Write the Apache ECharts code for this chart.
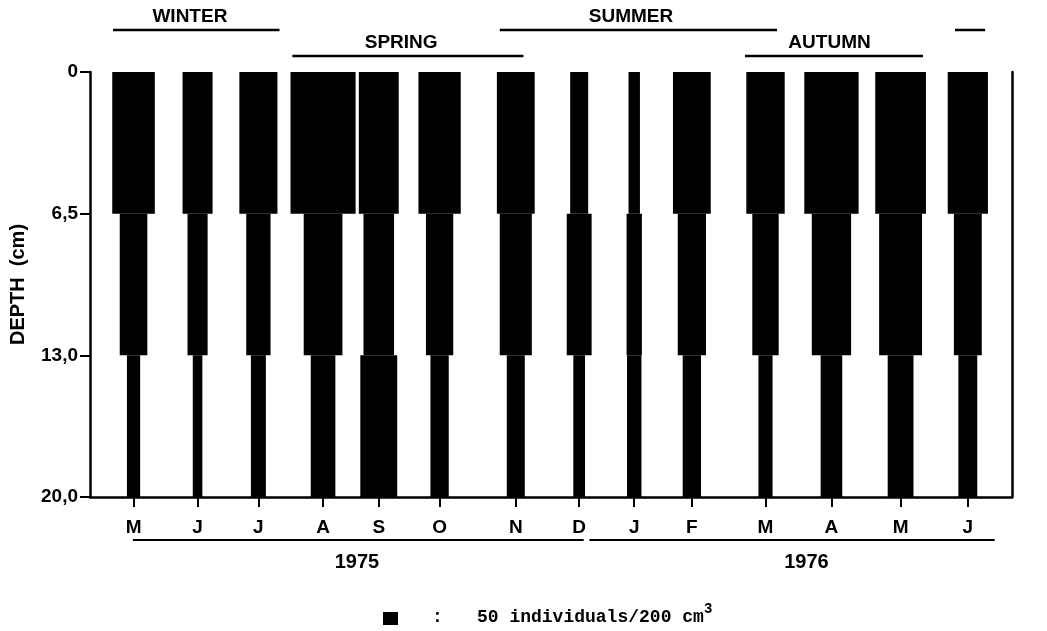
<!DOCTYPE html>
<html>
<head>
<meta charset="utf-8">
<title>Vertical distribution 1975-1976</title>
<script src="https://cdn.jsdelivr.net/npm/echarts@6/dist/echarts.min.js"></script>
<style>
  html, body { margin: 0; padding: 0; background: #fff; }
  #chart { width: 1047px; height: 631px; }
</style>
</head>
<body>
<div id="chart"></div>
<script>
/******************************DATA********************************/
// sampling dates in months from Jan 1975 (May 1975 = 4)
const sampleMonths = [3.98, 4.98, 5.93, 6.94, 7.81, 8.76, 9.95, 10.94, 11.80, 12.70, 13.85, 14.88, 15.96, 17.01]
const monthLabels = ['M', 'J', 'J', 'A', 'S', 'O', 'N', 'D', 'J', 'F', 'M', 'A', 'M', 'J']

// depth layer edges (cm) and individuals / 200 cm3 found in each layer
const depthLabels = ['0', '6,5', '13,0', '20,0']
const layer0to65 = [142, 100, 127, 217, 133, 141, 126, 60, 38, 126, 128, 181, 169, 134]
const layer65to13 = [92, 67, 81, 129, 102, 91, 107, 83, 51, 94, 88, 131, 143, 93]
const layer13to20 = [44, 32, 50, 82, 123, 61, 60, 39, 48, 61, 47, 72, 86, 63]

// seasons drawn above the plot (row 0 = upper row)
const seasonNames = ['WINTER', 'SPRING', 'SUMMER', 'AUTUMN', '']
const seasonFrom = [3.66, 6.46, 9.70, 13.53, 16.81]
const seasonTo = [6.26, 10.07, 14.03, 16.31, 17.28]
const seasonRow = [0, 1, 0, 1, 0]
const seasonLabelAt = [4.86, 8.16, 11.75, 14.85, 17.05]

// years drawn under the months
const yearNames = ['1975', '1976']
const yearFrom = [3.97, 11.10]
const yearTo = [11.01, 17.43]
const yearLabelAt = [7.47, 14.49]

// key: 50 individuals = 15 px of bar width
const KEY_COUNT = 50
const PX_PER_IND = 15 / KEY_COUNT

const SANS = '"Liberation Sans", Arial, sans-serif'
const MONO = '"Liberation Mono", "DejaVu Sans Mono", monospace'

/******************************CHART********************************/
const chart = echarts.init(document.getElementById('chart'), null, { renderer: 'canvas' })

const layers = [layer0to65, layer65to13, layer13to20]
const barData = []
layers.forEach((counts, l) => {
  counts.forEach((n, i) => barData.push([sampleMonths[i], l, n]))
})

const seasonData = seasonNames.map((_, i) => [seasonFrom[i], seasonTo[i], seasonRow[i], seasonLabelAt[i], i])
const yearData = yearNames.map((_, i) => [yearFrom[i], yearTo[i], yearLabelAt[i], i])

const monthFor = (v) => {
  let best = 0
  sampleMonths.forEach((m, i) => {
    if (Math.abs(m - v) < Math.abs(sampleMonths[best] - v)) best = i
  })
  return monthLabels[best]
}

const option = {
  backgroundColor: '#fff',
  animation: false,
  grid: { left: 87, right: 35, top: 72, bottom: 134 },
  xAxis: {
    type: 'value',
    position: 'bottom',
    min: 3.3,
    max: 17.7,
    splitLine: { show: false },
    axisLine: { onZero: false, lineStyle: { color: '#000', width: 2.5 } },
    axisTick: { customValues: sampleMonths, length: 10, lineStyle: { color: '#000', width: 2 } },
    axisLabel: {
      customValues: sampleMonths,
      formatter: monthFor,
      margin: 21,
      color: '#000',
      fontFamily: SANS,
      fontWeight: 'bold',
      fontSize: 19
    }
  },
  yAxis: [
    {
      type: 'value',
      inverse: true,
      min: 0,
      max: 3,
      interval: 1,
      name: 'DEPTH  (cm)',
      nameLocation: 'middle',
      nameGap: 62,
      nameTextStyle: { color: '#000', fontFamily: SANS, fontWeight: 'bold', fontSize: 20 },
      splitLine: { show: false },
      axisLine: { show: true, onZero: false, lineStyle: { color: '#000', width: 2.5 } },
      axisTick: { show: true, length: 10, lineStyle: { color: '#000', width: 2 } },
      axisLabel: {
        formatter: (v) => depthLabels[Math.round(v)],
        margin: 12,
        color: '#000',
        fontFamily: SANS,
        fontWeight: 'bold',
        fontSize: 19
      }
    },
    {
      type: 'value',
      position: 'right',
      inverse: true,
      min: 0,
      max: 3,
      splitLine: { show: false },
      axisLine: { show: true, onZero: false, lineStyle: { color: '#000', width: 2.5 } },
      axisTick: { show: false },
      axisLabel: { show: false }
    }
  ],
  series: [
    {
      // one black block per sample and depth layer, width = abundance
      type: 'custom',
      encode: { x: 0, y: 1 },
      data: barData,
      renderItem: (params, api) => {
        const x = api.value(0)
        const l = api.value(1)
        const w = api.value(2) * PX_PER_IND
        const p0 = api.coord([x, l])
        const p1 = api.coord([x, l + 1])
        return {
          type: 'rect',
          shape: { x: p0[0] - w / 2, y: Math.min(p0[1], p1[1]), width: w, height: Math.abs(p1[1] - p0[1]) },
          style: { fill: '#000' }
        }
      }
    },
    {
      // season bars above the plot
      type: 'custom',
      clip: false,
      encode: { x: [0, 1] },
      data: seasonData,
      silent: true,
      renderItem: (params, api) => {
        const cs = params.coordSys
        const a = api.coord([api.value(0), 0])[0]
        const b = api.coord([api.value(1), 0])[0]
        const c = api.coord([api.value(3), 0])[0]
        const row = api.value(2)
        const lineY = cs.y - (row === 0 ? 42 : 16)
        return {
          type: 'group',
          children: [
            { type: 'line', shape: { x1: a, y1: lineY, x2: b, y2: lineY }, style: { stroke: '#000', lineWidth: 2.5 } },
            {
              type: 'text',
              style: {
                text: seasonNames[api.value(4)],
                x: c,
                y: lineY - 13,
                align: 'center',
                verticalAlign: 'middle',
                fill: '#000',
                font: 'bold 19px ' + SANS
              }
            }
          ]
        }
      }
    },
    {
      // year bars under the months
      type: 'custom',
      clip: false,
      encode: { x: [0, 1] },
      data: yearData,
      silent: true,
      renderItem: (params, api) => {
        const cs = params.coordSys
        const a = api.coord([api.value(0), 0])[0]
        const b = api.coord([api.value(1), 0])[0]
        const c = api.coord([api.value(2), 0])[0]
        const lineY = cs.y + cs.height + 43
        return {
          type: 'group',
          children: [
            { type: 'line', shape: { x1: a, y1: lineY, x2: b, y2: lineY }, style: { stroke: '#000', lineWidth: 2 } },
            {
              type: 'text',
              style: {
                text: yearNames[api.value(3)],
                x: c,
                y: lineY + 22,
                align: 'center',
                verticalAlign: 'middle',
                fill: '#000',
                font: 'bold 20px ' + SANS
              }
            }
          ]
        }
      }
    }
  ],
  // key
  graphic: [
    { type: 'rect', left: 383, top: 612, shape: { width: KEY_COUNT * PX_PER_IND, height: 13 }, style: { fill: '#000' } },
    { type: 'text', left: 432, top: 608, style: { text: ':', fill: '#000', font: 'bold 18px ' + MONO } },
    { type: 'text', left: 477, top: 608, style: { text: KEY_COUNT + ' individuals/200 cm', fill: '#000', font: 'bold 18px ' + MONO } },
    { type: 'text', left: 704, top: 602, style: { text: '3', fill: '#000', font: 'bold 14px ' + MONO } }
  ]
}

chart.setOption(option)
</script>
</body>
</html>
